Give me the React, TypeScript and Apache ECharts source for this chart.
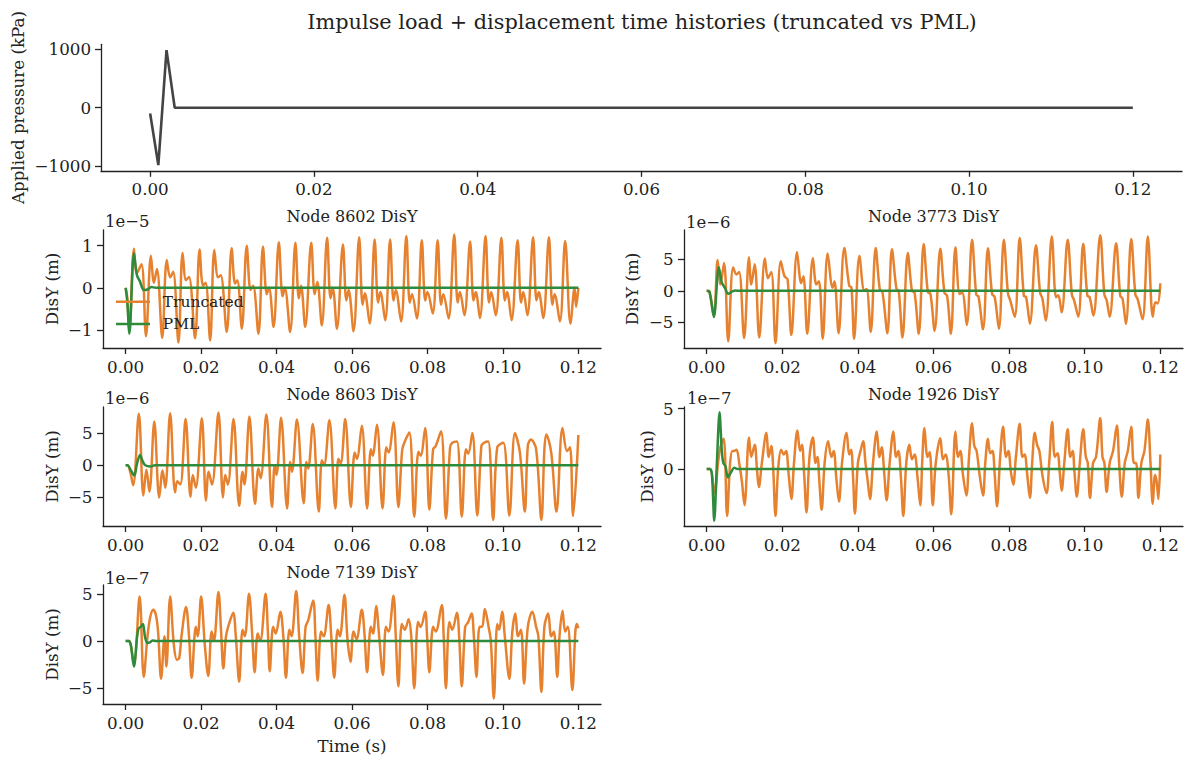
import React, { useEffect, useRef } from "react";
import * as echarts from "echarts";

type Pt = [number, number];

const FONT = "DejaVu Serif";
const ORANGE = "#e6822f";
const GREEN = "#2e8b3c";
const GREY = "#444444";
const INK = "#222222";

const TITLE = "Impulse load + displacement time histories (truncated vs PML)";
const X_TICKS = [0, 0.02, 0.04, 0.06, 0.08, 0.1, 0.12];
const LOAD_TICKS = [-1000, 0, 1000];

// Applied pressure (kPa) vs time (s)
const LOAD: Pt[] = [[0, -100], [0.001, -985], [0.002, 990], [0.003, 0], [0.12, 0]];

// Node 8602 DisY, units of 1e-5 m
const T8602: Pt[] = [
  [0, 0], [0.0004, -0.2], [0.001, -1.0], [0.0022, 0.93], [0.003, 0.35], [0.0042, 0.56], [0.0054, -1.15],
  [0.0067, 0.76], [0.0075, 0.12], [0.0083, 0.45], [0.0097, -1.19],
  [0.0109, 0.66], [0.0118, 0.25], [0.0126, 0.38], [0.014, -1.3],
  [0.0151, 0.83], [0.016, 0.18], [0.0168, 0.26], [0.0184, -1.2],
  [0.0196, 0.91], [0.0205, 0.05], [0.0212, 0.12], [0.0224, -1.25],
  [0.0235, 0.9], [0.0245, 0.25], [0.0252, 0.3], [0.0268, -1.05],
  [0.0281, 0.94], [0.029, 0.1], [0.0296, 0.18], [0.0308, -0.97],
  [0.0321, 1.0], [0.0331, -0.05], [0.0338, 0.05], [0.0352, -1.09],
  [0.0364, 0.98], [0.0374, -0.15], [0.038, 0.0], [0.0392, -0.93],
  [0.0406, 1.08], [0.0416, -0.2], [0.0422, 0.0], [0.0436, -1.05],
  [0.045, 1.07], [0.0459, -0.25], [0.0465, 0.05], [0.0476, -0.93],
  [0.0492, 1.07], [0.0501, -0.15], [0.0508, 0.14], [0.052, -0.89],
  [0.0534, 1.19], [0.0543, -0.25], [0.0549, 0.0], [0.056, -0.97],
  [0.0576, 1.03], [0.0585, -0.3], [0.0591, -0.05], [0.0604, -1.03],
  [0.0619, 1.2], [0.0628, -0.4], [0.0634, -0.13], [0.0647, -0.85],
  [0.066, 1.15], [0.0669, -0.35], [0.0675, -0.1], [0.0688, -0.77],
  [0.0701, 1.15], [0.071, -0.3], [0.0716, -0.05], [0.073, -0.8],
  [0.0744, 1.23], [0.0753, -0.35], [0.0759, -0.15], [0.0772, -0.73],
  [0.0785, 1.13], [0.0794, -0.3], [0.08, -0.1], [0.0814, -0.61],
  [0.0827, 1.13], [0.0836, -0.4], [0.0842, -0.15], [0.0856, -0.73],
  [0.0871, 1.27], [0.088, -0.35], [0.0886, -0.1], [0.0898, -0.65],
  [0.0913, 1.1], [0.0922, -0.3], [0.0928, -0.1], [0.0939, -0.72],
  [0.0954, 1.23], [0.0963, -0.35], [0.0969, -0.1], [0.0981, -0.65],
  [0.0996, 1.19], [0.1005, -0.3], [0.1011, -0.1], [0.1023, -0.77],
  [0.1039, 1.13], [0.1048, -0.35], [0.1054, -0.1], [0.1065, -0.65],
  [0.108, 1.2], [0.1089, -0.3], [0.1095, -0.1], [0.1107, -0.72],
  [0.1122, 1.2], [0.1131, -0.4], [0.1137, -0.15], [0.1151, -0.8],
  [0.1165, 1.11], [0.1179, -0.85], [0.119, 0.0], [0.1194, -0.45], [0.12, 0.0],
];
const P8602: Pt[] = [
  [0, 0], [0.0004, -0.3], [0.001, -1.09], [0.0022, 0.82], [0.003, 0.3], [0.0038, 0.15],
  [0.0048, -0.05], [0.0058, -0.04], [0.0068, 0.02], [0.008, 0.0], [0.12, 0.0],
];

// Node 3773 DisY, units of 1e-6 m
const T3773: Pt[] = [
  [0, 0], [0.0007, -0.1], [0.0019, -4.0], [0.0029, 4.9], [0.0036, 1.0], [0.0046, 4.4], [0.0057, -8.0],
  [0.007, 3.7], [0.0079, 2.6], [0.0086, 3.0], [0.0099, -7.5],
  [0.0112, 5.3], [0.0118, 1.0], [0.0127, 4.2], [0.0139, -7.4],
  [0.0154, 5.1], [0.0162, 2.0], [0.0171, 3.0], [0.0182, -8.3],
  [0.0196, 4.7], [0.0206, 2.3], [0.0214, 1.8], [0.0224, -7.0],
  [0.0239, 6.1], [0.025, 1.2], [0.0256, 2.3], [0.0266, -6.8],
  [0.0281, 5.2], [0.029, 1.0], [0.0297, 1.5], [0.0307, -7.6],
  [0.032, 5.9], [0.0333, 0.5], [0.0338, 1.5], [0.0349, -6.7],
  [0.0364, 6.8], [0.0377, 0.8], [0.0383, 0.5], [0.039, -7.6],
  [0.0404, 5.5], [0.0417, 0.0], [0.0423, 0.3], [0.0434, -6.5],
  [0.0447, 6.8], [0.0458, 0.2], [0.0465, -0.2], [0.0478, -6.7],
  [0.049, 6.6], [0.0502, 0.3], [0.0508, 0.0], [0.0518, -7.4],
  [0.0532, 6.0], [0.0543, 0.0], [0.055, -0.3], [0.0561, -6.8],
  [0.0574, 7.4], [0.0585, -0.2], [0.0592, -0.5], [0.0603, -6.3],
  [0.0618, 6.65], [0.0629, -0.3], [0.0636, -0.8], [0.0646, -6.8],
  [0.0658, 6.9], [0.0669, -0.5], [0.0676, -0.3], [0.0688, -5.4],
  [0.0702, 8.1], [0.0713, -0.6], [0.0719, -0.9], [0.0731, -6.1],
  [0.0744, 6.75], [0.0755, -0.5], [0.0762, -1.0], [0.0773, -6.0],
  [0.0786, 8.1], [0.0797, -0.4], [0.0803, -1.5], [0.0815, -4.1],
  [0.0828, 8.35], [0.0839, -0.8], [0.0845, -1.0], [0.0855, -5.2],
  [0.0871, 7.2], [0.0882, -0.3], [0.0888, -1.2], [0.0897, -4.7],
  [0.0913, 8.6], [0.0924, -1.0], [0.093, -0.7], [0.0939, -3.4],
  [0.0955, 8.1], [0.0966, -0.6], [0.0972, -1.5], [0.0983, -4.1],
  [0.0996, 7.45], [0.1007, -0.8], [0.1013, -1.0], [0.1023, -3.9],
  [0.1041, 8.8], [0.1052, -0.6], [0.1058, -1.5], [0.1066, -4.1],
  [0.1083, 7.55], [0.1094, -0.8], [0.11, -1.2], [0.1109, -5.2],
  [0.1123, 8.2], [0.1134, -0.6], [0.114, -1.3], [0.1153, -4.5],
  [0.1167, 8.6], [0.118, -4.1], [0.1187, -1.8], [0.1193, -2.0], [0.12, 1.2],
];
const P3773: Pt[] = [
  [0, 0], [0.0007, -0.1], [0.0019, -4.15], [0.0032, 3.72], [0.004, 1.3], [0.0048, 0.5],
  [0.0057, -0.48], [0.0068, -0.1], [0.0076, 0.05], [0.0085, 0.0], [0.12, 0.0],
];

// Node 8603 DisY, units of 1e-6 m
const T8603: Pt[] = [
  [0, 0], [0.0005, 0], [0.0012, -1.0], [0.002, -3.1], [0.0035, 8.0], [0.0047, -4.7], [0.0055, -0.7], [0.0063, -4.1],
  [0.0076, 6.8], [0.0089, -5.0], [0.0098, -0.8], [0.0105, -3.5],
  [0.0118, 8.1], [0.0131, -4.2], [0.0137, -2.5], [0.0145, -3.0],
  [0.0159, 7.2], [0.0172, -4.9], [0.0178, -1.5], [0.0186, -3.5],
  [0.0202, 7.3], [0.0213, -5.5], [0.022, -1.0], [0.0229, -3.0],
  [0.0246, 8.2], [0.0258, -5.0], [0.0264, -1.5], [0.0271, -3.0],
  [0.0286, 7.2], [0.0301, -6.3], [0.031, -1.0], [0.0315, -3.0],
  [0.0328, 7.6], [0.0343, -6.0], [0.0352, -0.5], [0.0358, -2.0],
  [0.0373, 7.9], [0.0388, -6.5], [0.0395, 0.0], [0.04, -1.5],
  [0.0412, 7.4], [0.0428, -6.7], [0.0436, 0.5], [0.0441, -1.0],
  [0.0454, 7.1], [0.0472, -5.9], [0.0479, 0.5], [0.0484, -0.5],
  [0.0496, 6.4], [0.0512, -7.2], [0.052, 0.8], [0.0526, 0.0],
  [0.054, 7.0], [0.0556, -6.7], [0.0564, 1.0], [0.057, 0.3],
  [0.0582, 7.2], [0.0597, -6.5], [0.0607, 2.0], [0.0613, 1.0],
  [0.0626, 6.15], [0.064, -6.7], [0.065, 2.5], [0.0655, 1.5],
  [0.0666, 6.3], [0.0681, -6.7], [0.0691, 2.8], [0.0697, 2.0],
  [0.071, 6.7], [0.0723, -6.5], [0.0733, 2.4], [0.074, 3.7],
  [0.0752, 5.1], [0.0765, -8.0], [0.0776, 2.1], [0.0782, 1.5],
  [0.0794, 5.8], [0.0805, -6.9], [0.0815, 2.5], [0.0822, 3.0],
  [0.0836, 5.3], [0.0849, -8.3], [0.086, 2.8], [0.0866, 3.5],
  [0.0878, 3.7], [0.0891, -8.0], [0.0902, 2.5], [0.0908, 1.8],
  [0.0919, 5.0], [0.0932, -7.8], [0.0943, 3.0], [0.095, 3.5],
  [0.0961, 3.7], [0.0974, -8.5], [0.0985, 2.8], [0.1001, 3.5],
  [0.1017, -7.8], [0.1032, 5.0], [0.1045, 2.0], [0.1058, -7.2],
  [0.1066, 3.0], [0.1074, 4.0], [0.1088, 2.5], [0.1102, -8.5],
  [0.111, 2.5], [0.1115, 4.8], [0.1128, 2.0], [0.1142, -7.2],
  [0.1158, 5.8], [0.117, 2.2], [0.1178, 2.8], [0.1186, -7.9], [0.12, 4.7],
];
const P8603: Pt[] = [
  [0, 0], [0.0005, 0], [0.0014, -0.8], [0.0023, -1.6], [0.003, 0.2], [0.0038, 1.6], [0.0046, 0.5],
  [0.0052, 0.0], [0.0065, -0.2], [0.0078, 0.0], [0.12, 0.0],
];

// Node 1926 DisY, units of 1e-7 m
const T1926: Pt[] = [
  [0, 0], [0.0009, 0], [0.0021, -2.0], [0.003, 0.5], [0.0036, 1.8], [0.0045, 2.5], [0.0054, -3.9],
  [0.0062, 0.5], [0.0068, 1.5], [0.0073, 1.5], [0.0079, 1.6], [0.0086, 0.5], [0.0093, -1.0], [0.01, -3.0],
  [0.0112, 2.6], [0.0118, 1.0], [0.0127, 2.0], [0.0133, 0.0], [0.0138, -1.5], [0.0146, 0.5],
  [0.0158, 3.0], [0.0164, 1.0], [0.0171, 1.9], [0.0176, 0.0], [0.0182, -3.9], [0.0189, 0.0],
  [0.0197, 1.6], [0.0204, 1.2], [0.021, 1.5], [0.0217, -0.5], [0.0224, -2.5], [0.0231, 0.5],
  [0.024, 3.2], [0.0247, 1.5], [0.0252, 2.0], [0.0258, -0.5], [0.0264, -3.6], [0.0272, 1.0],
  [0.0281, 2.6], [0.0288, 0.5], [0.0293, 1.0], [0.0298, -1.0], [0.0304, -3.4], [0.0312, 0.5],
  [0.0321, 2.3], [0.033, 1.0], [0.0336, 1.5], [0.0343, -0.8], [0.035, -2.7], [0.0358, 0.5],
  [0.037, 3.0], [0.0377, 1.2], [0.0382, 1.6], [0.0387, -0.5], [0.0392, -3.7], [0.04, 0.5],
  [0.0407, 1.5], [0.0414, 2.3], [0.042, 0.5], [0.0426, -1.0], [0.0432, -2.5], [0.044, 0.5],
  [0.045, 3.1], [0.0457, 1.0], [0.0463, 1.8], [0.047, -0.5], [0.0476, -2.6], [0.0484, 0.5],
  [0.0494, 3.1], [0.0501, 1.0], [0.0507, 1.5], [0.0514, -0.8], [0.052, -3.9], [0.0528, 0.5],
  [0.0536, 2.0], [0.0543, 0.8], [0.055, 1.2], [0.0558, -0.8], [0.0565, -3.0], [0.057, 0.5],
  [0.0576, 3.4], [0.0584, 1.0], [0.059, 1.4], [0.0598, -3.0], [0.0606, 0.5],
  [0.0618, 2.55], [0.0625, 0.8], [0.0632, 1.2], [0.064, -0.5], [0.0647, -3.75],
  [0.0658, 3.1], [0.0665, 1.0], [0.0671, 1.5], [0.0678, -0.5], [0.0687, -2.2], [0.0694, 1.0],
  [0.0702, 3.8], [0.0708, 1.9], [0.0714, 1.5], [0.0722, -0.5], [0.0731, -2.2], [0.0737, 0.5],
  [0.0744, 2.5], [0.075, 1.3], [0.0756, 1.5], [0.0762, -0.5], [0.0768, -3.1], [0.0776, 0.8],
  [0.0784, 3.5], [0.0792, 1.0], [0.0798, 1.5], [0.0805, -0.3], [0.0811, -1.3], [0.0818, 1.0],
  [0.0828, 3.75], [0.0835, 1.0], [0.0841, 1.2], [0.0848, -0.5], [0.0855, -2.4], [0.0861, 0.5],
  [0.0868, 3.0], [0.0874, 2.0], [0.088, 1.5], [0.0888, -0.5], [0.0899, -2.0], [0.0906, 0.5],
  [0.0914, 3.9], [0.0921, 1.0], [0.0928, 1.3], [0.0934, -0.3], [0.0939, -1.8], [0.0946, 0.5],
  [0.0955, 3.3], [0.0962, 1.0], [0.0968, 1.5], [0.0973, -0.3], [0.0979, -2.3], [0.0987, 0.5],
  [0.0996, 3.3], [0.1003, 1.0], [0.1008, 0.5], [0.1014, -2.4], [0.1022, 0.5], [0.103, 1.0],
  [0.1041, 4.2], [0.1047, 1.0], [0.1052, 0.5], [0.1058, -1.9], [0.1066, 0.5], [0.1075, 1.5],
  [0.1085, 3.6], [0.1091, 0.5], [0.1098, -2.3], [0.1106, 0.5], [0.1114, 1.5],
  [0.1123, 3.5], [0.113, 0.5], [0.1136, 0.5], [0.1142, -2.4], [0.115, 0.5], [0.1158, 1.5],
  [0.1167, 4.1], [0.1174, 0.5], [0.118, -2.9], [0.1186, -0.5], [0.119, -1.0], [0.1195, -2.5], [0.12, 1.2],
];
const P1926: Pt[] = [
  [0, 0], [0.0009, 0], [0.0014, -0.5], [0.002, -4.3], [0.0027, 0.5], [0.0034, 4.7], [0.004, 1.5],
  [0.0044, 0.5], [0.005, 0.2], [0.0056, -0.7], [0.0064, -0.3], [0.0073, 0.1], [0.0082, 0.0], [0.12, 0.0],
];

// Node 7139 DisY, units of 1e-7 m
const T7139: Pt[] = [
  [0, 0], [0.0009, 0], [0.0022, -2.5], [0.0037, 4.7], [0.0048, -3.8], [0.0058, 0.5], [0.0065, 2.5],
  [0.0073, 3.3], [0.008, 2.8], [0.0086, 1.0], [0.0094, -4.0], [0.0103, 0.5], [0.0108, -2.7],
  [0.0118, 4.7], [0.0128, -0.5], [0.0136, -2.0], [0.0142, -1.8], [0.0148, 0.5],
  [0.016, 3.6], [0.0168, 0.5], [0.0175, -3.9], [0.0186, 1.5], [0.0191, 0.5],
  [0.02, 4.7], [0.021, -0.5], [0.0219, -3.7], [0.0228, 1.0], [0.0234, 0.0],
  [0.0246, 5.2], [0.0253, 1.0], [0.0259, -2.9], [0.0266, 0.5], [0.0274, 1.8],
  [0.0285, 3.0], [0.0292, 0.5], [0.0301, -4.3], [0.031, 1.2], [0.0316, 0.5],
  [0.0327, 5.0], [0.0335, 1.0], [0.0342, -3.3], [0.035, 0.8], [0.0357, 0.0],
  [0.0371, 5.0], [0.0377, 1.0], [0.0382, -3.2], [0.0391, 1.5], [0.0398, 0.8],
  [0.041, 3.1], [0.0418, 0.5], [0.0425, -3.9], [0.0434, 1.2], [0.044, 0.5],
  [0.0452, 5.3], [0.046, 0.5], [0.0469, -3.4], [0.0477, 1.5], [0.0484, 2.2],
  [0.0497, 4.3], [0.0503, 0.5], [0.0509, -4.2], [0.0518, 1.0], [0.0525, 0.5],
  [0.0538, 3.8], [0.0545, 0.5], [0.0553, -3.9], [0.0562, 1.2], [0.0568, 0.5],
  [0.058, 4.9], [0.0588, 0.2], [0.0596, -2.2], [0.0604, 1.0], [0.0612, 0.2],
  [0.0626, 3.3], [0.0633, 0.8], [0.064, -3.3], [0.065, 1.5], [0.0656, 0.8],
  [0.0664, 3.7], [0.0672, 0.5], [0.0682, -3.6], [0.069, 1.5], [0.0697, 1.0],
  [0.071, 4.8], [0.0716, 0.5], [0.0723, -4.8], [0.0732, 1.8], [0.074, 1.2],
  [0.075, 2.3], [0.0757, 0.5], [0.0765, -5.0], [0.0775, 2.0], [0.0782, 1.5],
  [0.0794, 3.1], [0.0799, 0.5], [0.0805, -3.3], [0.0815, 1.5], [0.0822, 1.0],
  [0.0838, 3.8], [0.0843, 0.5], [0.0849, -5.0], [0.0858, 2.0], [0.0866, 1.2],
  [0.0878, 3.0], [0.0884, 0.5], [0.0891, -4.8], [0.09, 1.5], [0.0908, 2.0],
  [0.0917, 2.9], [0.0923, 0.5], [0.093, -3.8], [0.0938, 1.5], [0.0945, 1.5],
  [0.0952, 3.4], [0.0962, 1.5], [0.0968, 0.0], [0.0976, -6.1], [0.0985, 1.8], [0.099, 1.2],
  [0.0998, 3.1], [0.1005, 0.5], [0.1017, -4.0], [0.1025, 1.0],
  [0.1033, 2.9], [0.104, 0.5], [0.1048, 1.2], [0.1056, -4.5], [0.1066, 1.5],
  [0.1078, 3.1], [0.1088, 1.5], [0.1094, 0.5], [0.1102, -5.4], [0.111, 1.5],
  [0.112, 2.9], [0.1128, 0.5], [0.1135, 1.0], [0.1144, -3.8], [0.115, 0.5],
  [0.1158, 3.2], [0.1165, 1.0], [0.1172, 1.5], [0.1184, -5.2], [0.1192, 1.0], [0.1196, 1.8], [0.12, 1.35],
];
const P7139: Pt[] = [
  [0, 0], [0.0009, 0], [0.0014, -0.5], [0.0022, -2.7], [0.003, 0.3], [0.0034, 1.3], [0.004, 1.5],
  [0.0046, 1.8], [0.0051, 0.5], [0.0057, -0.2], [0.0064, -0.15], [0.0072, 0.05], [0.008, 0.0], [0.12, 0.0],
];

const PANEL_NAMES = ["Node 8602 DisY", "Node 3773 DisY", "Node 8603 DisY", "Node 1926 DisY", "Node 7139 DisY"];
const PANEL_EXP = ["1e\u22125", "1e\u22126", "1e\u22126", "1e\u22127", "1e\u22127"];
const PANEL_TICKS = [[-1, 0, 1], [-5, 0, 5], [-5, 0, 5], [0, 5], [-5, 0, 5]];
const PANEL_TRUNC = [T8602, T3773, T8603, T1926, T7139];
const PANEL_PML = [P8602, P3773, P8603, P1926, P7139];

// layout (pixels)
const LAYOUT = [
  { left: 103, top: 230, width: 498, height: 118, ymin: -1.43, ymax: 1.374, ylabX: 51.5, expX: 105, expY: 221, titleY: 216 },
  { left: 684, top: 230, width: 499, height: 118, ymin: -9.05, ymax: 9.63, ylabX: 632, expX: 686, expY: 222, titleY: 216 },
  { left: 103, top: 407, width: 498, height: 119, ymin: -9.44, ymax: 9.06, ylabX: 51.5, expX: 105, expY: 398, titleY: 394 },
  { left: 684, top: 407, width: 499, height: 119, ymin: -4.73, ymax: 5.14, ylabX: 646.5, expX: 687, expY: 398, titleY: 394 },
  { left: 103, top: 585, width: 498, height: 119, ymin: -6.67, ymax: 5.93, ylabX: 51.5, expX: 105, expY: 578, titleY: 572 },
];

const fmtNum = (v: number) => (v < 0 ? "\u2212" + String(Math.abs(v)) : String(v));

function text(x: number, y: number, s: string, size: number, align = "center", rotation = 0) {
  return {
    type: "text",
    x,
    y,
    rotation,
    silent: true,
    style: {
      text: s,
      fontFamily: FONT,
      fontSize: size,
      fill: INK,
      align,
      verticalAlign: "middle",
      textAlign: align,
      textVerticalAlign: "middle",
    },
  };
}

function axisCommon(ticks: number[], fmt: (v: number) => string, margin: number) {
  return {
    axisLine: { show: true, onZero: false, lineStyle: { color: INK, width: 1.3 } },
    axisTick: { show: true, length: 6, lineStyle: { color: INK, width: 1.3 }, customValues: ticks },
    axisLabel: {
      show: true,
      customValues: ticks,
      formatter: fmt,
      fontFamily: FONT,
      fontSize: 16.7,
      color: INK,
      margin,
    },
    splitLine: { show: false },
  };
}

export default function App() {
  const ref = useRef<HTMLDivElement>(null);
  useEffect(() => {
    if (!ref.current) return;
    const chart = echarts.init(ref.current, undefined, { renderer: "svg" });

    const grids: any[] = [{ left: 101, top: 44.3, width: 1081, height: 126.5 }];
    const xAxes: any[] = [
      {
        type: "value",
        gridIndex: 0,
        min: -0.006,
        max: 0.126,
        ...axisCommon(X_TICKS, (v: number) => v.toFixed(2), 10),
      },
    ];
    const yAxes: any[] = [
      {
        type: "value",
        gridIndex: 0,
        min: -1084,
        max: 1089,
        ...axisCommon(LOAD_TICKS, fmtNum, 10),
      },
    ];
    const series: any[] = [
      {
        type: "line",
        name: "Applied pressure",
        xAxisIndex: 0,
        yAxisIndex: 0,
        data: LOAD,
        showSymbol: false,
        lineStyle: { color: GREY, width: 2.6 },
        itemStyle: { color: GREY },
      },
    ];
    const graphics: any[] = [
      text(642, 22, TITLE, 20.8),
      text(18, 107.5, "Applied pressure (kPa)", 16.7, "center", Math.PI / 2),
      text(352, 745.5, "Time (s)", 16.7),
    ];

    LAYOUT.forEach((L, i) => {
      const gi = i + 1;
      grids.push({ left: L.left, top: L.top, width: L.width, height: L.height });
      xAxes.push({
        type: "value",
        gridIndex: gi,
        min: -0.006,
        max: 0.126,
        ...axisCommon(X_TICKS, (v: number) => v.toFixed(2), 10.5),
      });
      yAxes.push({
        type: "value",
        gridIndex: gi,
        min: L.ymin,
        max: L.ymax,
        ...axisCommon(PANEL_TICKS[i], fmtNum, 10.5),
      });
      series.push({
        type: "line",
        name: "Truncated",
        xAxisIndex: gi,
        yAxisIndex: gi,
        data: PANEL_TRUNC[i],
        showSymbol: false,
        smooth: 0.35,
        lineStyle: { color: ORANGE, width: 2.5 },
        itemStyle: { color: ORANGE },
      });
      series.push({
        type: "line",
        name: "PML",
        xAxisIndex: gi,
        yAxisIndex: gi,
        data: PANEL_PML[i],
        showSymbol: false,
        smooth: 0.3,
        lineStyle: { color: GREEN, width: 2.5 },
        itemStyle: { color: GREEN },
      });
      graphics.push(text(L.left + L.width / 2, L.titleY, PANEL_NAMES[i], 16));
      graphics.push(text(L.expX, L.expY, PANEL_EXP[i], 16.5, "left"));
      graphics.push(text(L.ylabX, L.top + L.height / 2, "DisY (m)", 16.7, "center", Math.PI / 2));
    });

    // legend (inside Node 8602 panel)
    graphics.push({
      type: "line",
      silent: true,
      shape: { x1: 116, y1: 301.7, x2: 150, y2: 301.7 },
      style: { stroke: ORANGE, lineWidth: 2.5 },
      z: 10,
    });
    graphics.push({
      type: "line",
      silent: true,
      shape: { x1: 116, y1: 324, x2: 150, y2: 324 },
      style: { stroke: GREEN, lineWidth: 2.5 },
      z: 10,
    });
    graphics.push({ ...text(162.7, 301.7, "Truncated", 15.5, "left"), z: 10 });
    graphics.push({ ...text(162.7, 324, "PML", 15.5, "left"), z: 10 });

    chart.setOption({
      animation: false,
      backgroundColor: "#ffffff",
      grid: grids,
      xAxis: xAxes,
      yAxis: yAxes,
      series,
      graphic: graphics,
    });
    return () => chart.dispose();
  }, []);

  return (
    <div
      ref={ref}
      style={{ position: "absolute", left: 0, top: 0, width: 1192, height: 760, background: "#fff" }}
    />
  );
}
